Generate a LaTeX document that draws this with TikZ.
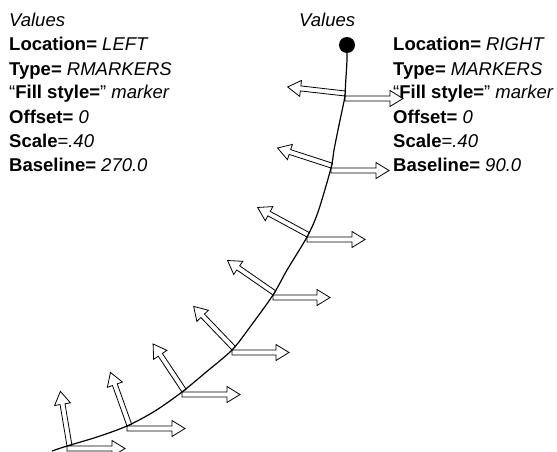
\documentclass[tikz,border=0pt]{standalone}
\usepackage{fontspec}
\setmainfont{Liberation Sans}
\newcommand\hollowarr[3]{%
  \draw[arrshape, shift={(#1)}, rotate=#2] (0,0) -- ({#3-13},0) -- ({#3-13},5.5) -- (#3,-2.5) -- ({#3-13},-10.5) -- ({#3-13},-5) -- (0,-5) -- cycle;}
\begin{document}
\begin{tikzpicture}[x=1pt,y=1pt,
  txt/.style={anchor=base west,inner sep=0pt,font=\fontsize{18.5}{24}\selectfont},
  arrshape/.style={draw=black,line width=0.8pt,line join=miter},
  curveline/.style={line width=1.2pt}]
\useasboundingbox (0,0) rectangle (557,-452);
% left block
\node[txt] (lv) at (9,-27) {\itshape Values};
\node[txt] (l1) at (9,-51) {\bfseries Location= \itshape\mdseries LEFT};
\node[txt] (l2) at (9,-75) {\bfseries Type= \itshape\mdseries RMARKERS};
\node[txt] (l3) at (9,-99) {“\textbf{Fill style=}” \textit{marker}};
\node[txt] (l4) at (9,-123) {\bfseries Offset= \itshape\mdseries 0};
\node[txt] (l5) at (9,-147) {\textbf{Scale}=\textit{.40}};
\node[txt] (l6) at (9,-171) {\bfseries Baseline= \itshape\mdseries 270.0};
% right block
\node[txt] (rv) at (299,-27) {\itshape Values};
\node[txt] (r1) at (393,-51) {\bfseries Location= \itshape\mdseries RIGHT};
\node[txt] (r2) at (393,-75) {\bfseries Type= \itshape\mdseries MARKERS};
\node[txt] (r3) at (393,-99) {“\textbf{Fill style=}” \textit{marker}};
\node[txt] (r4) at (393,-123) {\bfseries Offset= \itshape\mdseries 0};
\node[txt] (r5) at (393,-147) {\textbf{Scale}=\textit{.40}};
\node[txt] (r6) at (393,-171) {\bfseries Baseline= \itshape\mdseries 90.0};
% stations
\coordinate (s1) at (347,-45);
\coordinate (s2) at (345,-96);
\coordinate (s3) at (331,-168);
\coordinate (s4) at (307,-237);
\coordinate (s5) at (273,-295);
\coordinate (s6) at (232,-350);
\coordinate (s7) at (182,-392);
\coordinate (s8) at (127,-426);
\coordinate (s9) at (67,-446);
\coordinate (s10) at (52,-451);
% curve
\draw[curveline] plot[smooth,tension=0.5] coordinates {(s1) (347,-60) (345.5,-85) (s2) (339,-125) (334,-150) (s3) (318,-212) (s4) (287,-270) (s5) (250,-327) (s6) (205,-373) (s7) (155,-411) (s8) (97,-437) (s9) (s10)};
\fill (s1) circle (8);
% arrows
\hollowarr{s2}{173.5}{58}
\hollowarr{s2}{0}{58}
\hollowarr{s3}{162}{57}
\hollowarr{s3}{0}{58}
\hollowarr{s4}{151.6}{57.5}
\hollowarr{s4}{0}{58}
\hollowarr{s5}{145.3}{57}
\hollowarr{s5}{0}{57}
\hollowarr{s6}{133.8}{58}
\hollowarr{s6}{0}{57}
\hollowarr{s7}{123.6}{56}
\hollowarr{s7}{0}{58}
\hollowarr{s8}{109.7}{56}
\hollowarr{s8}{0}{58}
\hollowarr{s9}{99.5}{55}
\hollowarr{s9}{0}{58}
\end{tikzpicture}
\end{document}
